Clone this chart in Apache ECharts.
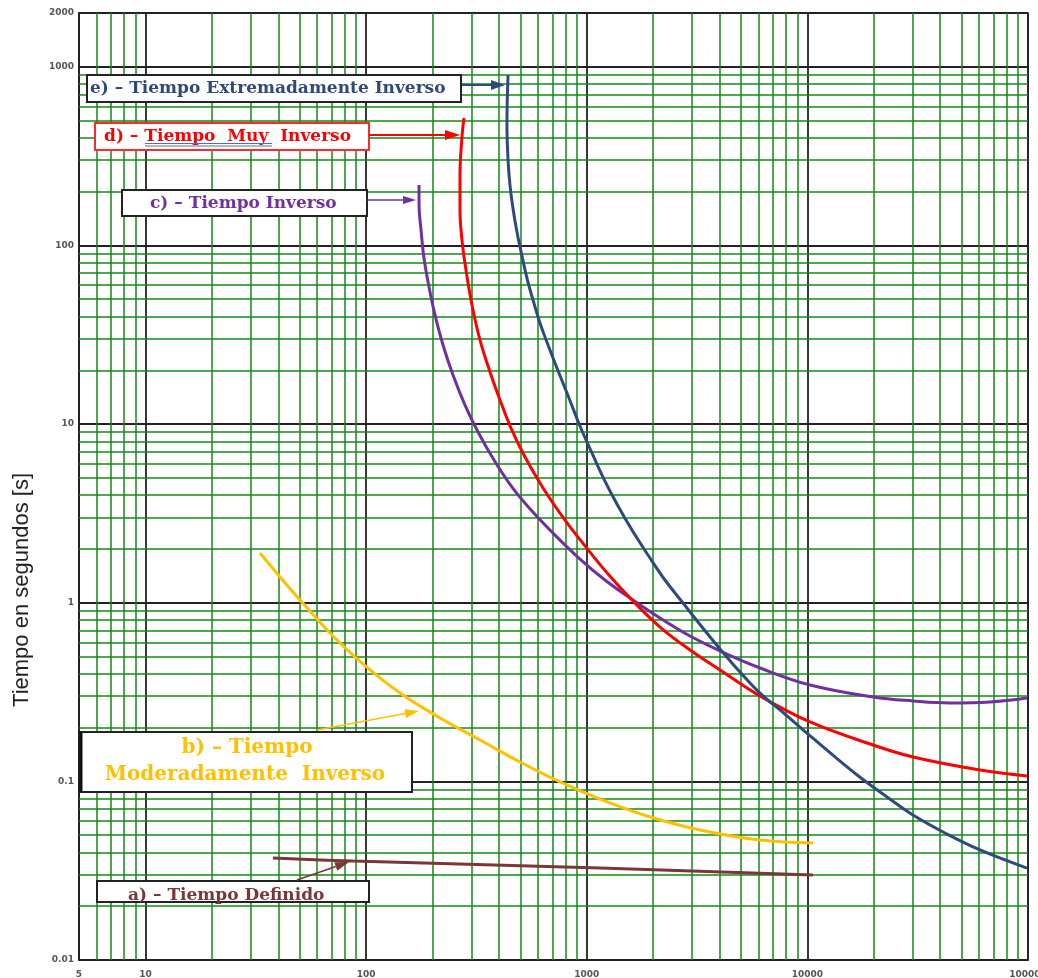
<!DOCTYPE html>
<html>
<head>
<meta charset="utf-8">
<script src="https://cdn.jsdelivr.net/npm/echarts@6/dist/echarts.min.js"></script>
<style>html,body{margin:0;padding:0;background:#fff}#c{width:1038px;height:978px}</style>
</head>
<body>
<div id="c"></div>
<script>
// ---- data ----
var xTickLabels = ['5', '10', '100', '1000', '10000', '100000'];
var yTickLabels = ['0.01', '0.1', '1', '10', '100', '1000', '2000'];

// e) Tiempo Extremadamente Inverso
var extInvX = [440, 435, 440, 449, 463, 483, 509, 536, 571, 614, 668, 733, 831, 932, 1056, 1197, 1371, 1604, 1896, 2263, 2732, 3330, 4018, 4952, 6100, 7914, 10070, 13340, 17510, 22960, 30110, 42050, 60580, 98900];
var extInvY = [899, 472, 301, 217.8, 161.9, 118.9, 87.2, 65.7, 49.5, 36.8, 27.7, 20.6, 13.99, 9.75, 6.89, 4.92, 3.57, 2.55, 1.849, 1.34, 0.996, 0.731, 0.551, 0.409, 0.312, 0.238, 0.184, 0.137, 0.1044, 0.0818, 0.0648, 0.0514, 0.0413, 0.0327];
// d) Tiempo Muy Inverso
var muyInvX = [277.8, 272.1, 266.5, 266.5, 272.1, 283.7, 302, 328.5, 364.5, 404.6, 453.8, 525.2, 633.9, 797.2, 982.2, 1249, 1604, 2148, 2939, 4018, 6100, 10280, 19840, 30110, 60580, 98900];
var muyInvY = [516.6, 404.5, 247.9, 157.8, 107.2, 72.8, 46.4, 29.5, 19.56, 13.63, 9.50, 6.54, 4.39, 2.90, 2.08, 1.447, 1.035, 0.731, 0.5435, 0.420, 0.3004, 0.215, 0.1598, 0.1369, 0.1157, 0.1071];
// c) Tiempo Inverso
var invX = [173.8, 173.8, 177.5, 183, 192.9, 205.3, 223.2, 247.7, 280.8, 321.7, 380.1, 458.6, 564.9, 718.2, 932, 1210, 1571, 2148, 2939, 4018, 6100, 10280, 19840, 30110, 44300, 67250, 98900];
var invY = [217.8, 168.3, 122, 85, 58.5, 40.8, 27.7, 18.82, 12.78, 9.03, 6.29, 4.44, 3.26, 2.39, 1.756, 1.34, 1.062, 0.821, 0.651, 0.537, 0.431, 0.346, 0.2967, 0.2818, 0.2747, 0.2782, 0.2928];
// b) Tiempo Moderadamente Inverso
var modInvX = [33.05, 40.74, 50.2, 68.6, 96.8, 142.5, 216.3, 328.5, 498.4, 756.8, 1149, 1876, 3261, 6100, 10600];
var modInvY = [1.897, 1.393, 1.035, 0.677, 0.454, 0.312, 0.2263, 0.1704, 0.1283, 0.0992, 0.0796, 0.0640, 0.0534, 0.0469, 0.0452];
// a) Tiempo Definido
var defX = [37.8, 87.3, 1150, 10600];
var defY = [0.0372, 0.0358, 0.0327, 0.0299];

var minorX = [6, 7, 8, 9];
var minorY = [];
(function () {
  for (var d = 10; d <= 10000; d *= 10) for (var k = 2; k <= 9; k++) minorX.push(k * d);
  for (var e = 0.01; e <= 100.0001; e *= 10) for (var j = 2; j <= 9; j++) minorY.push(+(j * e).toPrecision(4));
})();

function zip(xs, ys) { return xs.map(function (x, i) { return [x, ys[i]]; }); }
function fmt(v) { return String(+(+v).toPrecision(6)); }

var chart = echarts.init(document.getElementById('c'), null, { renderer: 'canvas' });

var GREEN = '#138a13';
var minorLines = [];
minorX.forEach(function (v) { minorLines.push({ xAxis: v }); });
minorY.forEach(function (v) { minorLines.push({ yAxis: v }); });

function curve(name, xs, ys, color) {
  return {
    name: name, type: 'line', data: zip(xs, ys), showSymbol: false, symbol: 'none',
    smooth: 0.4, z: 5, lineStyle: { color: color, width: 3 }, animation: false
  };
}

var option = {
  animation: false,
  grid: { left: 79, right: 10, top: 13, bottom: 18, outerBoundsMode: 'none', containLabel: false,
    show: true, borderColor: '#222', borderWidth: 1.5, backgroundColor: 'transparent' },
  xAxis: {
    type: 'log', logBase: 10, min: 5, max: 100000,
    axisLine: { show: true, lineStyle: { color: '#222', width: 1.5 } },
    axisTick: { show: false },
    splitLine: { show: true, lineStyle: { color: '#222', width: 1.8 } },
    axisLabel: { fontSize: 9, fontWeight: 'bold', color: '#555', fontFamily: 'DejaVu Sans', margin: 10, hideOverlap: false,
      formatter: function (v) { var s = fmt(v); return xTickLabels.indexOf(s) >= 0 ? s : ''; } }
  },
  yAxis: {
    type: 'log', logBase: 10, min: 0.01, max: 2000,
    axisLine: { show: true, lineStyle: { color: '#222', width: 1.5 } },
    axisTick: { show: false },
    splitLine: { show: true, lineStyle: { color: '#222', width: 1.8 } },
    axisLabel: { fontSize: 9, fontWeight: 'bold', color: '#555', fontFamily: 'DejaVu Sans', margin: 5,
      formatter: function (v) { var s = fmt(v); return yTickLabels.indexOf(s) >= 0 ? s : ''; } }
  },
  series: [
    {
      type: 'line', data: [[5, 0.01]], symbol: 'none', z: 1, silent: true,
      lineStyle: { opacity: 0 },
      markLine: { silent: true, symbol: ['none', 'none'], animation: false, label: { show: false },
        lineStyle: { color: GREEN, width: 1.5, type: 'solid' }, data: minorLines }
    },
    curve('a) – Tiempo Definido', defX, defY, '#7b3636'),
    curve('b) – Tiempo Moderadamente Inverso', modInvX, modInvY, '#ffc000'),
    curve('c) – Tiempo Inverso', invX, invY, '#7030a0'),
    curve('d) – Tiempo Muy Inverso', muyInvX, muyInvY, '#ff0000'),
    curve('e) – Tiempo Extremadamente Inverso', extInvX, extInvY, '#2e4a7d')
  ]
};
chart.setOption(option);

// ---- annotations ----
var SERIF = 'DejaVu Serif';
function box(x, y, w, h, stroke, lw) {
  return { type: 'rect', z: 20, shape: { x: x, y: y, width: w, height: h },
    style: { fill: '#fff', stroke: stroke || '#222', lineWidth: lw || 2 } };
}
function txt(x, y, s, color, size, align) {
  return { type: 'text', z: 21, x: x, y: y,
    style: { text: s, fill: color, font: 'bold ' + size + 'px "' + SERIF + '"', textAlign: align || 'left', textVerticalAlign: 'middle' } };
}
function arrow(x1, y1, x2, y2, color, lw, hl, hw) {
  var dx = x2 - x1, dy = y2 - y1, L = Math.sqrt(dx * dx + dy * dy);
  var ux = dx / L, uy = dy / L, px = -uy, py = ux;
  var bx = x2 - ux * hl, by = y2 - uy * hl;
  return [
    { type: 'line', z: 22, shape: { x1: x1, y1: y1, x2: bx, y2: by }, style: { stroke: color, lineWidth: lw } },
    { type: 'polygon', z: 22, shape: { points: [[x2, y2], [bx + px * hw, by + py * hw], [bx - px * hw, by - py * hw]] }, style: { fill: color } }
  ];
}

var g = [];
// e)
g.push(box(87, 75, 374, 27, '#222', 2));
g.push(txt(90, 89, 'e) – Tiempo Extremadamente Inverso', '#2e4a7d', 17));
g = g.concat(arrow(462, 85, 505, 85, '#2e4a7d', 2, 14, 5));
// d)
g.push(box(95, 123, 274, 27, '#ff2a2a', 2));
g.push(txt(104, 137, 'd) – Tiempo  Muy  Inverso', '#ff0000', 17));
g.push({ type: 'line', z: 22, shape: { x1: 145, y1: 143.5, x2: 272, y2: 143.5 }, style: { stroke: '#4472c4', lineWidth: 1 } });
g.push({ type: 'line', z: 22, shape: { x1: 145, y1: 146, x2: 272, y2: 146 }, style: { stroke: '#4472c4', lineWidth: 1 } });
g = g.concat(arrow(369, 135, 460, 135, '#ff0000', 2, 15, 5));
// c)
g.push(box(122, 190, 245, 26, '#222', 2));
g.push(txt(150, 204, 'c) – Tiempo Inverso', '#7030a0', 17));
g = g.concat(arrow(367, 200, 416, 200, '#7030a0', 1.5, 13, 4));
// b)
g.push(box(80, 732, 332, 60, '#222', 2));
g.push({ type: 'line', z: 22, shape: { x1: 81, y1: 732, x2: 81, y2: 792 }, style: { stroke: '#111', lineWidth: 3 } });
g.push(txt(247, 748, 'b) – Tiempo', '#ffc000', 20, 'center'));
g.push(txt(245, 775, 'Moderadamente  Inverso', '#ffc000', 20, 'center'));
g = g.concat(arrow(317, 730, 419, 711, '#ffc000', 1.5, 14, 4.5));
// a)
g.push(box(97, 881, 272, 21, '#222', 2));
g.push(txt(128, 896, 'a) – Tiempo Definido', '#7b3636', 17));
g = g.concat(arrow(297, 880, 349, 862, '#7b3636', 1.5, 14, 4.5));
// y axis title
g.push({ type: 'text', z: 21, x: 22, y: 590, rotation: Math.PI / 2,
  style: { text: 'Tiempo en segundos [s]', fill: '#222', font: '22px "Liberation Sans"', textAlign: 'center', textVerticalAlign: 'middle' } });

chart.setOption({ graphic: { elements: g } });
</script>
</body>
</html>
